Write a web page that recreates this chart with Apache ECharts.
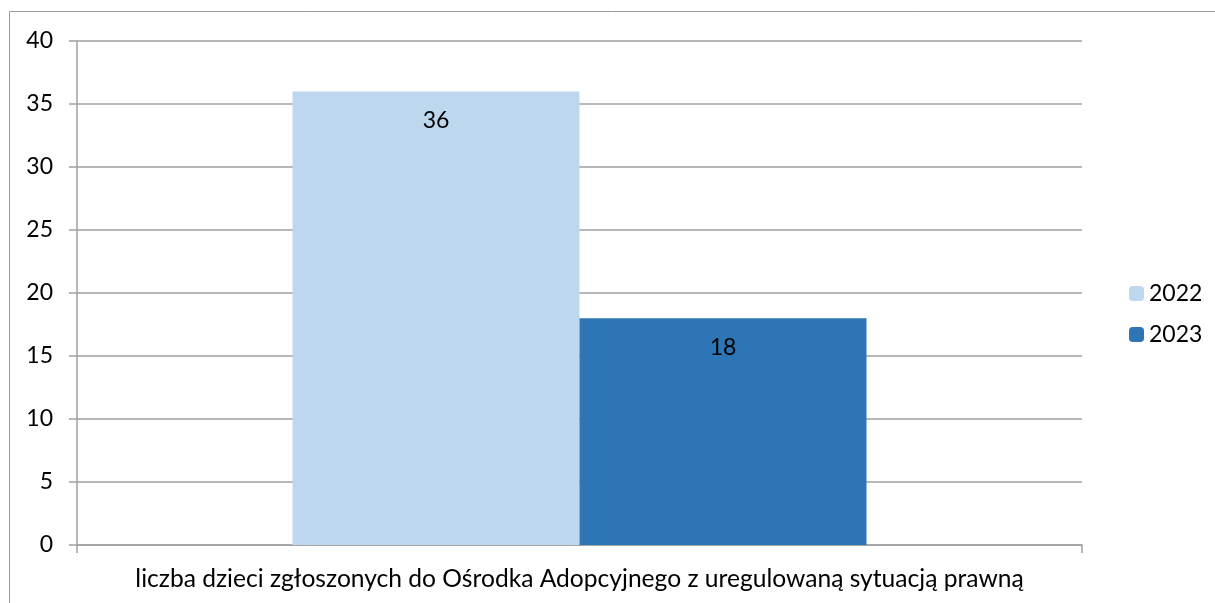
<!DOCTYPE html>
<html><head><meta charset="utf-8">
<script src="https://cdn.jsdelivr.net/npm/echarts@6/dist/echarts.min.js"></script>
<style>html,body{margin:0;padding:0;background:#fff}#c{width:1215px;height:603px}</style>
</head><body><div id="c"></div>
<script>
const categories = ['liczba dzieci zgłoszonych do Ośrodka Adopcyjnego z uregulowaną sytuacją prawną'];
const seriesNames = ['2022', '2023'];
const values2022 = [36];
const values2023 = [18];
const colors = ['#BDD7EE', '#2E75B6'];
const FONT = 'Lato';
const chart = echarts.init(document.getElementById('c'), null, {renderer: 'canvas'});
const labelCfg = {show: true, position: 'insideTop', distance: 18, color: '#000', fontFamily: FONT, fontSize: 23};
chart.setOption({
  animation: false,
  textStyle: {fontFamily: FONT},
  graphic: [{type: 'rect', shape: {x: 9.5, y: 11.5, width: 1220, height: 620}, style: {fill: 'none', stroke: '#9a9a9a', lineWidth: 1}, silent: true}],
  grid: {left: 77, right: 133, top: 41, bottom: 58, containLabel: false},
  legend: {
    orient: 'vertical', left: 1124, top: 277, itemWidth: 15, itemHeight: 15, itemGap: 18,
    textStyle: {fontFamily: FONT, fontSize: 23, color: '#000'},
    data: seriesNames
  },
  xAxis: {
    type: 'category', data: categories,
    axisLine: {lineStyle: {color: '#a0a0a0', width: 1.5}},
    axisTick: {show: true, length: 8, lineStyle: {color: '#a0a0a0', width: 1.5}},
    axisLabel: {fontFamily: FONT, fontSize: 24.6, color: '#000', margin: 22}
  },
  yAxis: {
    type: 'value', min: 0, max: 40, interval: 5,
    axisLine: {show: true, lineStyle: {color: '#a0a0a0', width: 1.5}},
    axisTick: {show: true, length: 8, lineStyle: {color: '#a0a0a0', width: 1.5}},
    splitLine: {lineStyle: {color: '#a0a0a0', width: 1.5}},
    axisLabel: {fontFamily: FONT, fontSize: 23, color: '#000', margin: 24}
  },
  series: [
    {name: seriesNames[0], type: 'bar', data: values2022, itemStyle: {color: colors[0]}, barWidth: 287, barGap: '0%', label: labelCfg},
    {name: seriesNames[1], type: 'bar', data: values2023, itemStyle: {color: colors[1]}, barWidth: 287, barGap: '0%', label: labelCfg}
  ]
});
</script></body></html>
